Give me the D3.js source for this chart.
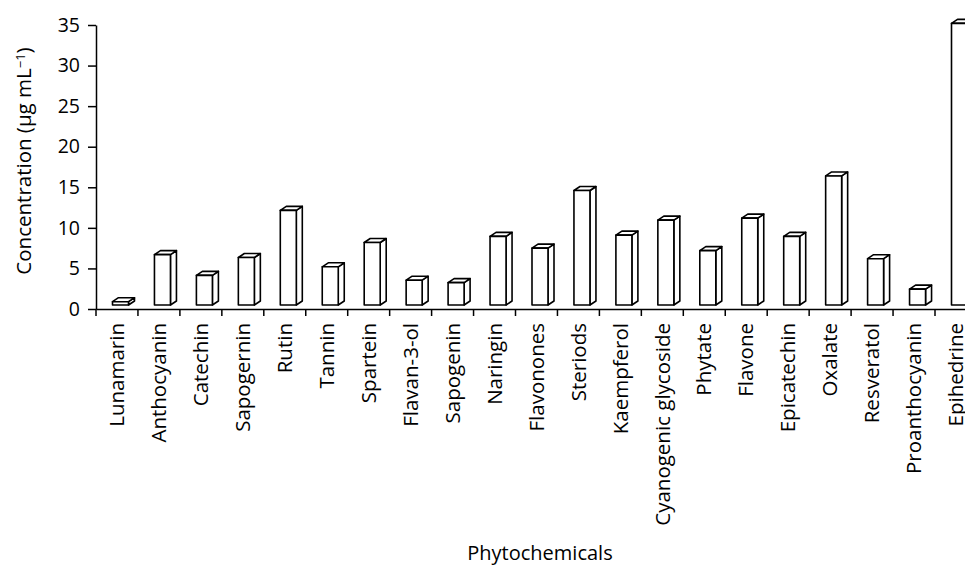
<!DOCTYPE html>
<html>
<head>
<meta charset="utf-8">
<script src="https://cdn.jsdelivr.net/npm/d3@7"></script>
<style>
	body { margin: 0; background: #fff; }
	svg { display: block; }
	svg text { font-family: "Open Sans", "Noto Sans", sans-serif; fill: #000; }
	.axis path, .axis line { stroke: #000; stroke-width: 1.5; }
	.axis text { font-size: 19.5px; }
	.axis .lbl { font-size: 20.5px; }
	.bar { fill: #fff; stroke: #000; stroke-width: 1.6; stroke-linejoin: round; }
</style>
</head>
<body>
<svg width="965" height="565"></svg>
<script>
var categories = ["Lunamarin", "Anthocyanin", "Catechin", "Sapogernin", "Rutin", "Tannin", "Spartein",
	"Flavan-3-ol", "Sapogenin", "Naringin", "Flavonones", "Steriods", "Kaempferol", "Cyanogenic glycoside",
	"Phytate", "Flavone", "Epicatechin", "Oxalate", "Resveratol", "Proanthocyanin", "Epihedrine"];
var values = [0.9, 6.7, 4.15, 6.35, 12.15, 5.2, 8.2, 3.55, 3.25, 8.95, 7.5, 14.6, 9.1, 10.95,
	7.2, 11.2, 8.95, 16.4, 6.2, 2.45, 35.2];
var yTicks = [0, 5, 10, 15, 20, 25, 30, 35];

var svg = d3.select("svg");
var plotLeft = 96, plotTop = 25, plotBottom = 309, bandW = 41.95;

var x = d3.scaleBand()
	.domain(categories)
	.range([plotLeft, plotLeft + bandW * categories.length]);

var y = d3.scaleLinear()
	.domain([0, 35])
	.range([plotBottom, plotTop]);

// axes
svg.append("g")
	.attr("class", "axis")
	.attr("transform", "translate(" + plotLeft + ",0)")
	.call(d3.axisLeft(y).tickValues(yTicks).tickSize(8).tickPadding(8).tickSizeOuter(0));

var xAxis = svg.append("g")
	.attr("class", "axis")
	.attr("transform", "translate(0," + plotBottom + ")")
	.call(d3.axisBottom(x).tickSize(0).tickSizeOuter(0).tickFormat(""));

// ticks between categories
xAxis.selectAll(".sep")
	.data(d3.range(categories.length + 1))
	.enter()
	.append("line")
	.attr("x1", function(i) { return plotLeft + i * bandW; })
	.attr("x2", function(i) { return plotLeft + i * bandW; })
	.attr("y1", 0)
	.attr("y2", 7);

xAxis.selectAll(".lbl")
	.data(categories)
	.enter()
	.append("text")
	.attr("class", "lbl")
	.attr("transform", function(d) { return "translate(" + (x(d) + x.bandwidth() / 2) + ",14) rotate(-90)"; })
	.attr("dy", "0.35em")
	.attr("text-anchor", "end")
	.text(function(d) { return d; });

// 3d columns
var fw = 16, dx = 6, dz = 4, lift = 4, off = 16.5;

var bars = svg.selectAll(".col")
	.data(categories)
	.enter()
	.append("g");

bars.each(function(d, i) {
	var g = d3.select(this);
	var x0 = x(d) + off, x1 = x0 + fw;
	var yb = y(0) - lift, yt = y(values[i]);
	// side
	g.append("path").attr("class", "bar")
		.attr("d", "M" + x1 + "," + yb + "L" + (x1 + dx) + "," + (yb - dz) + "L" + (x1 + dx) + "," + (yt - dz) + "L" + x1 + "," + yt + "Z");
	// top
	g.append("path").attr("class", "bar")
		.attr("d", "M" + x0 + "," + yt + "L" + (x0 + dx) + "," + (yt - dz) + "L" + (x1 + dx) + "," + (yt - dz) + "L" + x1 + "," + yt + "Z");
	// front
	g.append("rect").attr("class", "bar")
		.attr("x", x0).attr("y", yt)
		.attr("width", fw).attr("height", yb - yt);
});

// titles
var yTitle = svg.append("text")
	.attr("transform", "translate(24,161) rotate(-90)")
	.attr("text-anchor", "middle")
	.attr("dy", "0.35em")
	.style("font-size", "20.5px");
yTitle.append("tspan").text("Concentration (µg mL");
yTitle.append("tspan").attr("dy", "-0.5em").style("font-size", "13px").text("−1");
yTitle.append("tspan").attr("dy", "0.32em").text(")");

svg.append("text")
	.attr("x", 540)
	.attr("y", 560)
	.attr("text-anchor", "middle")
	.style("font-size", "20px")
	.text("Phytochemicals");
</script>
</body>
</html>
